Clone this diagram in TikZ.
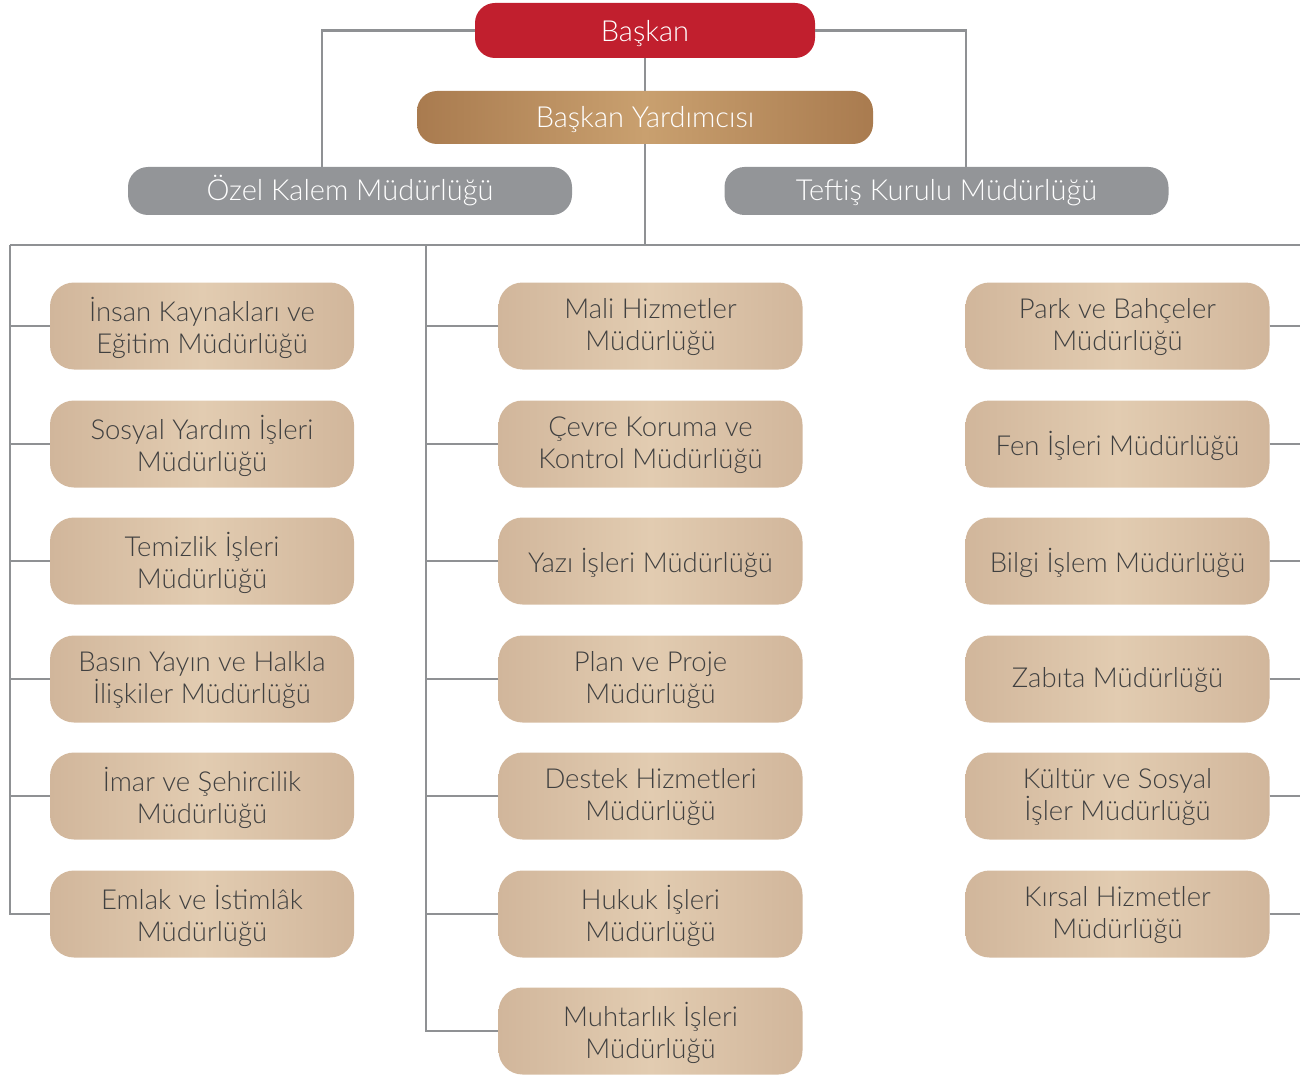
\documentclass[tikz,border=0pt]{standalone}
\usepackage{fontspec}
\setmainfont{Lato}[UprightFont={* Light}]
\definecolor{redbox}{HTML}{C11F2E}
\definecolor{brownedge}{HTML}{A97B4F}
\definecolor{brownmid}{HTML}{C9A06F}
\definecolor{graybox}{HTML}{939598}
\definecolor{tanedge}{HTML}{D1B69B}
\definecolor{tanmid}{HTML}{E2CCB1}
\definecolor{linegray}{HTML}{8F9194}
\definecolor{txtgray}{HTML}{404040}
\newcommand{\unitbox}[3]{%
  \node[unit] (#1) at (#2) {};
  \node[utxt] at (#1.center) {#3};}
\begin{document}
\begin{tikzpicture}[x=1pt,y=-1pt,
  topbox/.style={rounded corners=20pt, inner sep=0pt},
  toptxt/.style={text=white, font=\fontsize{29}{32}\selectfont, inner sep=0pt, align=center, yshift=-2pt},
  redstyle/.style={topbox, fill=redbox, minimum width=340pt, minimum height=55pt},
  brownstyle/.style={topbox, left color=brownedge, right color=brownedge, middle color=brownmid, minimum width=456pt, minimum height=53pt},
  graystyle/.style={topbox, fill=graybox, minimum width=444pt, minimum height=48pt},
  unit/.style={rounded corners=24pt, left color=tanedge, right color=tanedge, middle color=tanmid, minimum width=304pt, minimum height=87pt, inner sep=0pt},
  utxt/.style={align=center, text=txtgray, inner sep=0pt, font=\fontsize{27.5}{32}\selectfont, yshift=-1.5pt},
  conn/.style={draw=linegray, line width=2.5pt}
]
\useasboundingbox (0,0) rectangle (1300,1075);

\node[redstyle] (bsk) at (645,30.5) {};
\node[toptxt, yshift=-1pt] at (bsk.center) {Başkan};
\node[brownstyle] (yrd) at (645,117.5) {};
\node[toptxt] at (yrd.center) {Başkan Yardımcısı};
\node[graystyle] (ozel) at (350,191) {};
\node[toptxt, yshift=2pt] at (ozel.center) {Özel Kalem Müdürlüğü};
\node[graystyle] (teftis) at (946.5,191) {};
\node[toptxt] at (teftis.center) {Teftiş Kurulu Müdürlüğü};

% left column
\unitbox{L1}{202,326}{İnsan Kaynakları ve\\Eğitim Müdürlüğü}
\unitbox{L2}{202,444}{Sosyal Yardım İşleri\\Müdürlüğü}
\unitbox{L3}{202,561}{Temizlik İşleri\\Müdürlüğü}
\unitbox{L4}{202,679}{Basın Yayın ve Halkla\\İlişkiler Müdürlüğü}
\unitbox{L5}{202,796}{İmar ve Şehircilik\\Müdürlüğü}
\unitbox{L6}{202,914}{Emlak ve İstimlâk\\Müdürlüğü}

% middle column
\unitbox{M1}{650.5,326}{Mali Hizmetler\\Müdürlüğü}
\unitbox{M2}{650.5,444}{Çevre Koruma ve\\Kontrol Müdürlüğü}
\unitbox{M3}{650.5,561}{Yazı İşleri Müdürlüğü}
\unitbox{M4}{650.5,679}{Plan ve Proje\\Müdürlüğü}
\unitbox{M5}{650.5,796}{Destek Hizmetleri\\Müdürlüğü}
\unitbox{M6}{650.5,914}{Hukuk İşleri\\Müdürlüğü}
\unitbox{M7}{650.5,1031}{Muhtarlık İşleri\\Müdürlüğü}

% right column
\unitbox{R1}{1117.5,326}{Park ve Bahçeler\\Müdürlüğü}
\unitbox{R2}{1117.5,444}{Fen İşleri Müdürlüğü}
\unitbox{R3}{1117.5,561}{Bilgi İşlem Müdürlüğü}
\unitbox{R4}{1117.5,679}{Zabıta Müdürlüğü}
\unitbox{R5}{1117.5,796}{Kültür ve Sosyal\\İşler Müdürlüğü}
\unitbox{R6}{1117.5,914}{Kırsal Hizmetler\\Müdürlüğü}

\coordinate (busC) at (645,245);
\coordinate (busL) at (10,245);
\coordinate (busM) at (426,245);
\coordinate (busR) at (1300,245);

\draw[conn] (bsk.west) -| ([xshift=-28pt]ozel.north);
\draw[conn] (bsk.east) -| ([xshift=19.5pt]teftis.north);
\draw[conn] (bsk.south) -- (yrd.north);
\draw[conn] (yrd.south) -- (busC);
\draw[conn] (busL) -- (busR);
\draw[conn] (busL) |- (L6.west);
\draw[conn] (busM) |- (M7.west);
\foreach \n in {L1,L2,L3,L4,L5} {\draw[conn] (\n.west) -- (\n.west -| busL);}
\foreach \n in {M1,M2,M3,M4,M5,M6} {\draw[conn] (\n.west) -- (\n.west -| busM);}
\foreach \n in {R1,R2,R3,R4,R5,R6} {\draw[conn] (\n.east) -- (\n.east -| busR);}
\end{tikzpicture}
\end{document}
